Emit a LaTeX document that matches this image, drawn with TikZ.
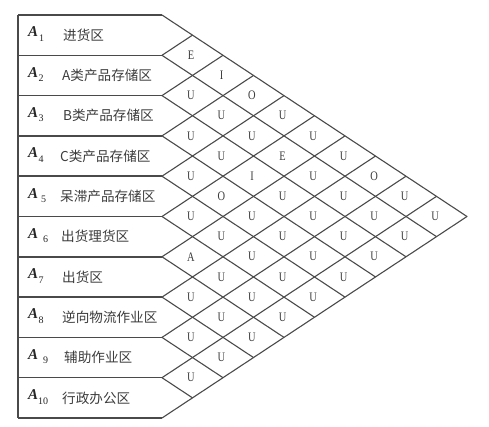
\documentclass[tikz,border=0pt]{standalone}
\usepackage{fontspec}
\setmainfont{Liberation Serif}
\newfontfamily\cjk{Noto Sans CJK SC}
\newfontfamily\letterfont[FakeStretch=0.8]{Liberation Serif}
\definecolor{linec}{HTML}{4A4A4A}
\definecolor{textc}{HTML}{3C3C3C}
\begin{document}
\begin{tikzpicture}[x=1pt,y=-1pt,
  hline/.style={draw=linec,line width=1.5pt},
  dline/.style={draw=linec,line width=1.1pt},
  cell/.style={inner sep=0pt,font=\letterfont\fontsize{13}{13}\selectfont,text=textc},
  alab/.style={inner sep=0pt,anchor=west,text=black!85,font=\fontsize{15}{15}\selectfont},
  zname/.style={inner sep=0pt,anchor=west,text=textc,font=\cjk\fontsize{13.6}{14}\selectfont}]
\useasboundingbox (0,0) rectangle (489,427);
\def\xo{162}\def\w{30.5}\def\yo{15}\def\h{20.15}
% grid coordinates
\foreach \k in {0,...,10}{
  \coordinate (L\k) at (\xo,{\yo+2*\h*\k});
  \coordinate (B\k) at (18,{\yo+2*\h*\k});
}
\coordinate (tip) at ({\xo+10*\w},{\yo+10*\h});
\foreach \k in {1,...,9}{
  \coordinate (D\k) at ({\xo+\w*(10-\k)},{\yo+\h*(10+\k)});
  \coordinate (U\k) at ({\xo+\w*\k},{\yo+\h*\k});
}
% left box
\foreach \k in {0,...,10}{ \draw[hline] (B\k) -- (L\k); }
\draw[hline] (B0) -- (B10);
% diagonals
\draw[dline,line join=round] (L0) -- (tip) -- (L10);
\foreach \k in {1,...,9}{
  \draw[dline] (L\k) -- (D\k);
  \draw[dline] (L\k) -- (U\k);
}
% row labels
\foreach \i/\nm/\tx/\sk in {1/进货区/63/1,2/A类产品存储区/62/0.5,3/B类产品存储区/63/0.5,4/C类产品存储区/60/0.5,5/呆滞产品存储区/60/3,6/出货理货区/61/5,7/出货区/62/0.5,8/逆向物流作业区/62/0.5,9/辅助作业区/64/5,10/行政办公区/62/0}{
  \node[alab] (a\i) at (28,{\yo+\h*(2*\i-1)-1}) {\textbf{\textit{A}}\kern\sk pt\raisebox{-4.5pt}{\fontsize{10}{10}\selectfont\i}};
  \node[zname] (n\i) at (\tx,{\yo+\h*(2*\i-1)}) {\nm};
}
% relation letters
\foreach \i/\j/\t in {1/2/E,1/3/I,1/4/O,1/5/U,1/6/U,1/7/U,1/8/O,1/9/U,1/10/U,
  2/3/U,2/4/U,2/5/U,2/6/E,2/7/U,2/8/U,2/9/U,2/10/U,
  3/4/U,3/5/U,3/6/I,3/7/U,3/8/U,3/9/U,3/10/U,
  4/5/U,4/6/O,4/7/U,4/8/U,4/9/U,4/10/U,
  5/6/U,5/7/U,5/8/U,5/9/U,5/10/U,
  6/7/A,6/8/U,6/9/U,6/10/U,
  7/8/U,7/9/U,7/10/U,
  8/9/U,8/10/U,
  9/10/U}{
  \node[cell] (c\i-\j) at ({\xo+\w*(\j-\i)-1.5},{\yo+\h*(\i+\j-1)}) {\t};
}
\end{tikzpicture}
\end{document}
